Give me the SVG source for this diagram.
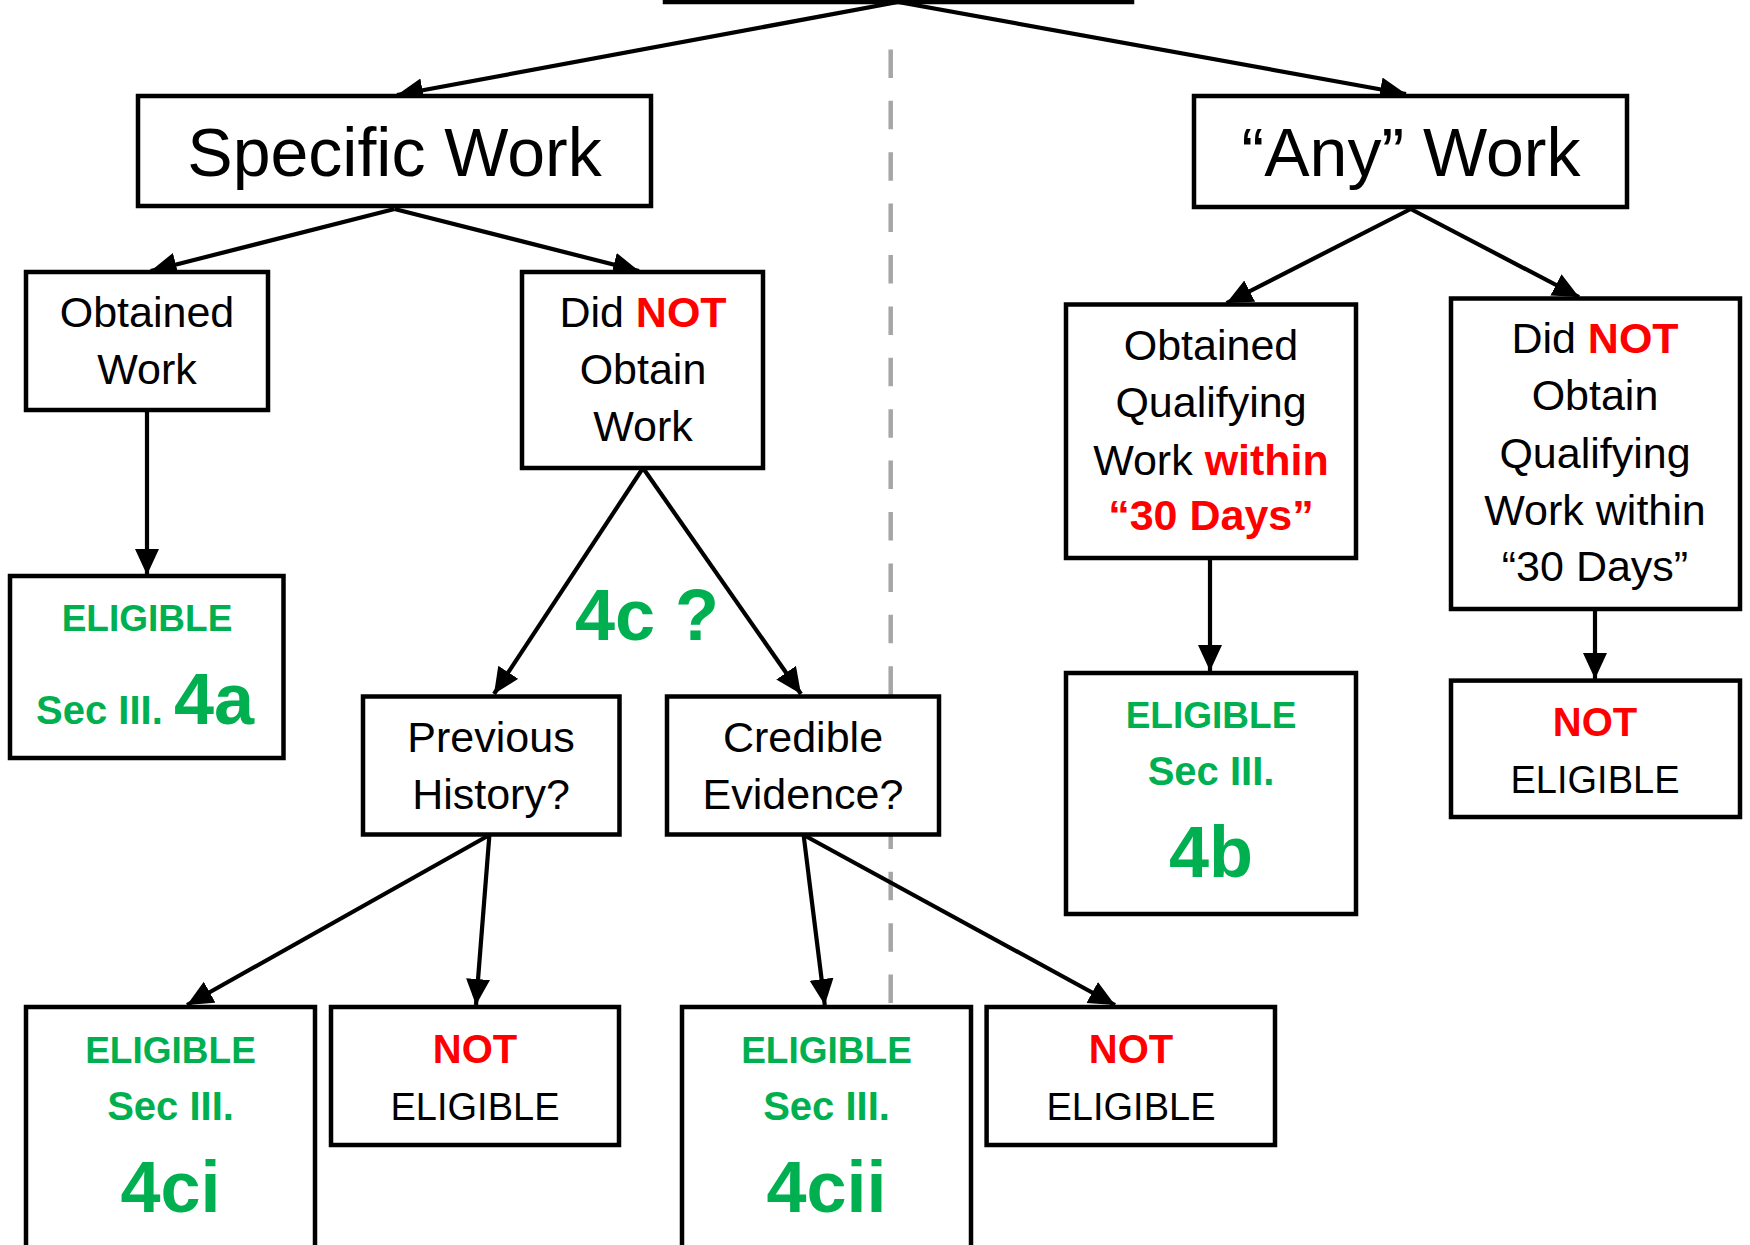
<svg xmlns="http://www.w3.org/2000/svg" width="1750" height="1245" viewBox="0 0 1750 1245">
<style>
.box{fill:#fff;stroke:#000;stroke-width:4.5}
.c{stroke:#000;stroke-width:4.2;fill:none;marker-end:url(#ah)}
text{font-family:"Liberation Sans",Arial,sans-serif;text-anchor:middle;fill:#000}
.t{font-size:43px}
.big{font-size:68px}
.b{font-weight:bold}
.g{fill:#00B050}
.r{fill:#FF0000}
.eb{font-size:37px;font-weight:bold;fill:#00B050}
.sec{font-size:40px;font-weight:bold;fill:#00B050}
.num{font-size:72px;font-weight:bold;fill:#00B050}
.ne{font-size:38px}
.nt{font-size:40px;font-weight:bold;fill:#FF0000}
</style>
<defs>
<marker id="ah" markerUnits="userSpaceOnUse" markerWidth="28" markerHeight="26" refX="26" refY="12" orient="auto">
<path d="M0,0 L26,12 L0,24 z" fill="#000"/>
</marker>
</defs>
<rect width="1750" height="1245" fill="#fff"/>
<line id="divider" x1="890.7" y1="49.4" x2="890.7" y2="1004" stroke="#A6A6A6" stroke-width="4.5" stroke-dasharray="28.5 22.9"/>
<g id="connectors">
<line class="c" x1="898" y1="2" x2="397" y2="95"/>
<line class="c" x1="898" y1="2" x2="1406" y2="94"/>
<line class="c" x1="394.5" y1="209" x2="150.7" y2="271"/>
<line class="c" x1="394.5" y1="209" x2="639" y2="271"/>
<line class="c" x1="147" y1="410" x2="147" y2="575"/>
<line class="c" x1="643" y1="468" x2="494" y2="694"/>
<line class="c" x1="643" y1="468" x2="801" y2="694"/>
<line class="c" x1="489.4" y1="835" x2="187" y2="1005"/>
<line class="c" x1="489.4" y1="835" x2="476" y2="1005"/>
<line class="c" x1="803.6" y1="835" x2="824.8" y2="1005"/>
<line class="c" x1="803.6" y1="835" x2="1115" y2="1005"/>
<line class="c" x1="1410.7" y1="209" x2="1226.6" y2="303"/>
<line class="c" x1="1410.7" y1="209" x2="1579" y2="297"/>
<line class="c" x1="1210" y1="558" x2="1210" y2="671"/>
<line class="c" x1="1595" y1="609" x2="1595" y2="679"/>
</g>
<g id="root"><rect class="box" x="665" y="-60" width="467" height="62"/></g>
<g id="specific-work">
<rect class="box" x="138" y="96" width="513" height="110"/>
<text class="big" x="394.5" y="176">Specific Work</text>
</g>
<g id="any-work">
<rect class="box" x="1194" y="96" width="433" height="111"/>
<text class="big" x="1411" y="176">“Any” Work</text>
</g>
<g id="obtained-work">
<rect class="box" x="26" y="272" width="242" height="138"/>
<text class="t" x="147" y="327">Obtained</text>
<text class="t" x="147" y="384">Work</text>
</g>
<g id="did-not-obtain-work">
<rect class="box" x="522" y="272" width="241" height="196"/>
<text class="t" x="643" y="327">Did <tspan class="b r">NOT</tspan></text>
<text class="t" x="643" y="384">Obtain</text>
<text class="t" x="643" y="441">Work</text>
</g>
<g id="eligible-4a">
<rect class="box" x="10" y="576" width="273.5" height="182"/>
<text class="eb" x="147" y="631">ELIGIBLE</text>
<text class="sec" x="36" y="724" style="text-anchor:start">Sec III.</text>
<text class="num" x="174" y="724" style="text-anchor:start">4a</text>
</g>
<g id="label-4c">
<text class="num" x="647" y="640">4c ?</text>
</g>
<g id="previous-history">
<rect class="box" x="363" y="696.5" width="256.5" height="138"/>
<text class="t" x="491" y="751.5">Previous</text>
<text class="t" x="491" y="808.5">History?</text>
</g>
<g id="credible-evidence">
<rect class="box" x="667" y="696.5" width="272" height="138"/>
<text class="t" x="803" y="751.5">Credible</text>
<text class="t" x="803" y="808.5">Evidence?</text>
</g>
<g id="eligible-4ci">
<rect class="box" x="26" y="1007" width="289" height="300"/>
<text class="eb" x="170.5" y="1063">ELIGIBLE</text>
<text class="sec" x="170.5" y="1120">Sec III.</text>
<text class="num" x="170.5" y="1212">4ci</text>
</g>
<g id="not-eligible-1">
<rect class="box" x="331" y="1007" width="288" height="138"/>
<text class="nt" x="475" y="1063">NOT</text>
<text class="ne" x="475" y="1120">ELIGIBLE</text>
</g>
<g id="eligible-4cii">
<rect class="box" x="682" y="1007" width="289" height="300"/>
<text class="eb" x="826.5" y="1063">ELIGIBLE</text>
<text class="sec" x="826.5" y="1120">Sec III.</text>
<text class="num" x="826.5" y="1212">4cii</text>
</g>
<g id="not-eligible-2">
<rect class="box" x="986.6" y="1007" width="288.4" height="138"/>
<text class="nt" x="1131" y="1063">NOT</text>
<text class="ne" x="1131" y="1120">ELIGIBLE</text>
</g>
<g id="obtained-qualifying">
<rect class="box" x="1066" y="304.5" width="290" height="253.5"/>
<text class="t" x="1211" y="360">Obtained</text>
<text class="t" x="1211" y="417">Qualifying</text>
<text class="t" x="1211" y="474.5">Work <tspan class="b r">within</tspan></text>
<text class="t b r" x="1211" y="530">“30 Days”</text>
</g>
<g id="did-not-obtain-qualifying">
<rect class="box" x="1451" y="298.5" width="289" height="310.5"/>
<text class="t" x="1595" y="353">Did <tspan class="b r">NOT</tspan></text>
<text class="t" x="1595" y="410">Obtain</text>
<text class="t" x="1595" y="468">Qualifying</text>
<text class="t" x="1595" y="525">Work within</text>
<text class="t" x="1595" y="581">“30 Days”</text>
</g>
<g id="eligible-4b">
<rect class="box" x="1066" y="673" width="290" height="241"/>
<text class="eb" x="1211" y="727.6">ELIGIBLE</text>
<text class="sec" x="1211" y="784.6">Sec III.</text>
<text class="num" x="1211" y="877">4b</text>
</g>
<g id="not-eligible-3">
<rect class="box" x="1451" y="680.6" width="289" height="136.4"/>
<text class="nt" x="1595" y="735.6">NOT</text>
<text class="ne" x="1595" y="793">ELIGIBLE</text>
</g>
</svg>
